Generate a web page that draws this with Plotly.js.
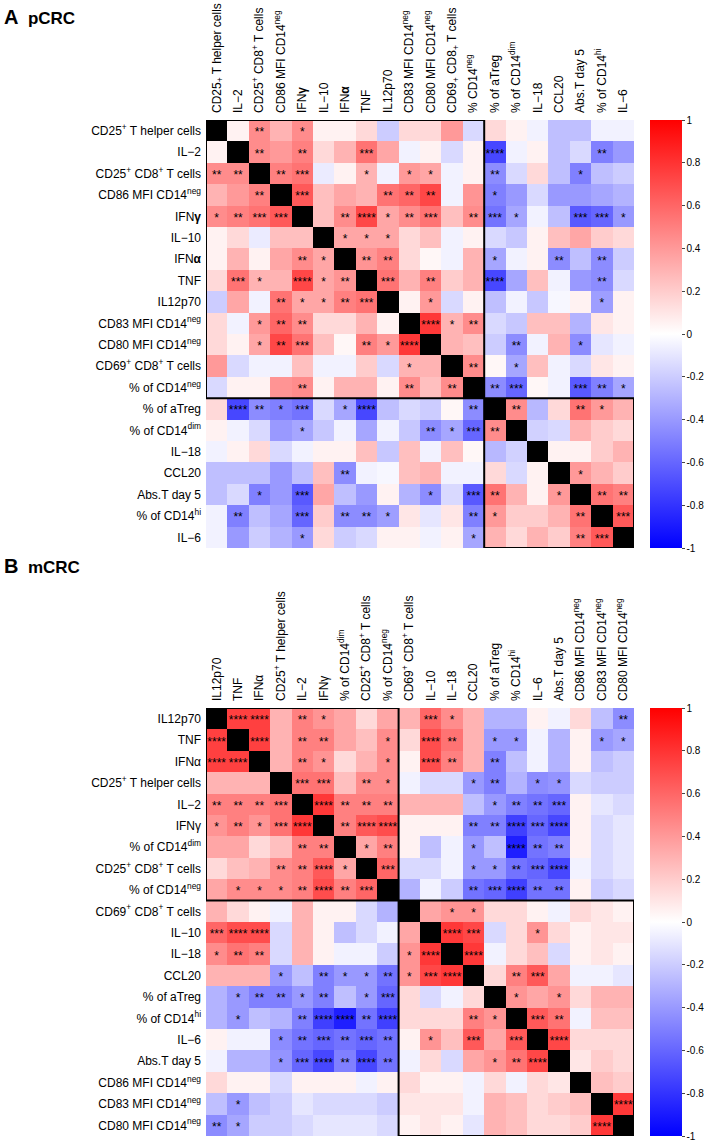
<!DOCTYPE html>
<html><head><meta charset="utf-8">
<script src="https://cdn.plot.ly/plotly-3.0.1.min.js"></script>
<style>html,body{margin:0;padding:0;background:#fff}</style>
</head><body><div id="chart" style="width:705px;height:1144px"></div>
<script>
// ---------- Panel A : pCRC ----------
const rowLabelsA = ["CD25<sup>+</sup> T helper cells","IL−2","CD25<sup>+</sup> CD8<sup>+</sup> T cells","CD86 MFI CD14<sup>neg</sup>","IFN<b>γ</b>","IL−10","IFN<b>α</b>","TNF","IL12p70","CD83 MFI CD14<sup>neg</sup>","CD80 MFI CD14<sup>neg</sup>","CD69<sup>+</sup> CD8<sup>+</sup> T cells","% of CD14<sup>neg</sup>","% of aTreg","% of CD14<sup>dim</sup>","IL−18","CCL20","Abs.T day 5","% of CD14<sup>hi</sup>","IL−6"];
const colLabelsA = ["CD25<sub>+</sub> T helper cells","IL−2","CD25<sup>+</sup> CD8<sup>+</sup> T cells","CD86 MFI CD14<sup>neg</sup>","IFN<b>γ</b>","IL−10","IFN<b>α</b>","TNF","IL12p70","CD83 MFI CD14<sup>neg</sup>","CD80 MFI CD14<sup>neg</sup>","CD69<sub>+</sub> CD8<sub>+</sub> T cells","% CD14<sup>neg</sup>","% of aTreg","% of CD14<sup>dim</sup>","IL−18","CCL20","Abs.T day 5","% of CD14<sup>hi</sup>","IL−6"];
// lower triangle correlations (row i, columns 0..i-1)
const lowerA = [
 [],
 [0.05],
 [0.45,0.45],
 [0.3,0.4,0.5],
 [0.45,0.5,0.55,0.65],
 [0.05,0.15,-0.08,0.25,0.25],
 [0.05,0.3,0.05,0.35,0.45,0.35],
 [0.15,0.55,0.3,0.3,0.72,0.35,0.42],
 [-0.2,0.35,-0.05,0.55,0.35,0.35,0.5,0.55],
 [0.15,-0.05,0.4,0.6,0.45,0.15,0.15,0.3,0.05],
 [0.15,0.05,0.35,0.72,0.55,0.25,0.03,0.5,0.4,0.78],
 [0.4,-0.15,-0.05,-0.05,0.25,-0.05,-0.05,0.2,-0.15,0.3,0.3],
 [-0.15,0.05,0.05,0.42,0.45,0.05,0.3,0.3,0.05,0.45,0.25,0.45],
 [0.15,-0.72,-0.45,-0.5,-0.55,-0.15,-0.35,-0.72,-0.25,-0.15,-0.2,0.03,-0.45],
 [0.05,-0.05,-0.15,-0.4,-0.35,-0.22,-0.05,-0.35,-0.05,-0.22,-0.45,-0.35,-0.6,0.45],
 [-0.05,0.05,0.15,-0.15,-0.05,0.05,0.05,0.25,-0.22,0.25,-0.05,0.25,0.03,-0.28,-0.18],
 [-0.25,-0.25,-0.25,-0.4,-0.25,0.25,-0.45,-0.05,-0.03,0.25,0.3,-0.05,-0.05,0.15,-0.15,0.05],
 [-0.25,-0.15,-0.5,-0.4,-0.65,0.35,-0.25,-0.4,0.05,-0.3,-0.45,-0.15,-0.65,0.55,0.3,0.05,0.4],
 [-0.05,-0.5,-0.25,-0.35,-0.6,0.2,-0.45,-0.45,-0.38,0.1,-0.1,0.1,-0.5,0.4,0.2,0.2,0.3,0.55],
 [-0.05,-0.4,-0.2,-0.3,-0.4,0.15,-0.2,-0.15,0.05,0.05,-0.05,0.05,-0.35,0.3,0.15,0.3,0.2,0.5,0.65]
];
// lower triangle significance (number of asterisks)
const sigA = [
 [],
 [0],
 [2,2],
 [0,0,2],
 [1,2,3,3],
 [0,0,0,0,0],
 [0,0,0,0,2,1],
 [0,3,1,0,4,1,2],
 [0,0,0,2,1,1,2,3],
 [0,0,1,2,2,0,0,0,0],
 [0,0,1,2,3,0,0,2,1,4],
 [0,0,0,0,0,0,0,0,0,1,0],
 [0,0,0,0,2,0,0,0,0,2,0,2],
 [0,4,2,1,3,0,1,4,0,0,0,0,2],
 [0,0,0,0,1,0,0,0,0,0,2,1,3,2],
 [0,0,0,0,0,0,0,0,0,0,0,0,0,0,0],
 [0,0,0,0,0,0,2,0,0,0,0,0,0,0,0,0],
 [0,0,1,0,3,0,0,0,0,0,1,0,3,2,0,0,1],
 [0,2,0,0,3,0,2,2,1,0,0,0,2,1,0,0,0,2],
 [0,0,0,0,1,0,0,0,0,0,0,0,1,0,0,0,0,2,3]
];
const blocksA = [13, 7];

// ---------- Panel B : mCRC ----------
const rowLabelsB = ["IL12p70","TNF","IFNα","CD25<sup>+</sup> T helper cells","IL−2","IFNγ","% of CD14<sup>dim</sup>","CD25<sup>+</sup> CD8<sup>+</sup> T cells","% of CD14<sup>neg</sup>","CD69<sup>+</sup> CD8<sup>+</sup> T cells","IL−10","IL−18","CCL20","% of aTreg","% of CD14<sup>hi</sup>","IL−6","Abs.T day 5","CD86 MFI CD14<sup>neg</sup>","CD83 MFI CD14<sup>neg</sup>","CD80 MFI CD14<sup>neg</sup>"];
const colLabelsB = ["IL12p70","TNF","IFNα","CD25<sup>+</sup> T helper cells","IL−2","IFNγ","% of CD14<sup>dim</sup>","CD25<sup>+</sup> CD8<sup>+</sup> T cells","% of CD14<sup>neg</sup>","CD69<sup>+</sup> CD8<sup>+</sup> T cells","IL−10","IL−18","CCL20","% of aTreg","% CD14<sup>hi</sup>","IL−6","Abs.T day 5","CD86 MFI CD14<sup>neg</sup>","CD83 MFI CD14<sup>neg</sup>","CD80 MFI CD14<sup>neg</sup>"];
const lowerB = [
 [],
 [0.75],
 [0.75,0.75],
 [0.3,0.3,0.3],
 [0.5,0.5,0.5,0.55],
 [0.42,0.5,0.42,0.55,0.78],
 [0.35,0.35,0.15,0.25,0.5,0.5],
 [0.15,0.25,0.3,0.45,0.5,0.65,0.35],
 [0.35,0.45,0.45,0.45,0.5,0.7,0.5,0.6],
 [0.3,0.15,0.05,-0.05,0.3,0.05,0.05,-0.15,-0.3],
 [0.6,0.7,0.7,-0.15,0.3,0.05,-0.25,-0.15,-0.05,0.35],
 [0.45,0.55,0.5,-0.15,0.3,0.05,-0.05,-0.05,-0.2,0.42,0.78],
 [0.3,0.3,0.3,-0.4,-0.25,-0.5,-0.4,-0.4,-0.55,0.42,0.72,0.78],
 [-0.3,-0.4,-0.5,-0.5,-0.4,-0.5,-0.25,-0.4,-0.6,0.15,-0.15,-0.05,0.15],
 [-0.3,-0.4,-0.25,-0.3,-0.5,-0.75,-0.88,-0.55,-0.75,0.15,0.15,0.15,0.5,0.42],
 [0.05,-0.05,-0.05,-0.45,-0.55,-0.6,-0.55,-0.6,-0.55,0.05,0.42,0.25,0.65,0.35,0.65],
 [-0.05,-0.3,-0.3,-0.42,-0.6,-0.72,-0.5,-0.72,-0.55,-0.05,0.15,-0.15,0.35,0.42,0.55,0.72],
 [0.15,0.05,0.05,-0.15,0.05,0.05,0.05,-0.05,0.05,0.15,0.05,0.05,-0.05,0.15,-0.05,0.15,0.1],
 [-0.25,-0.4,-0.25,-0.2,-0.1,-0.15,-0.15,-0.15,-0.2,0.1,0.1,0.1,-0.05,0.3,0.25,0.15,0.2,0.25],
 [-0.45,-0.35,-0.2,-0.2,-0.15,-0.1,-0.1,-0.1,-0.15,0.05,0.1,0.05,-0.1,0.3,0.25,0.15,0.15,0.2,0.78]
];
const sigB = [
 [],
 [4],
 [4,4],
 [0,0,0],
 [2,2,2,3],
 [1,2,1,3,4],
 [0,0,0,0,2,2],
 [0,0,0,2,2,4,1],
 [0,1,1,1,2,4,2,3],
 [0,0,0,0,0,0,0,0,0],
 [3,4,4,0,0,0,0,0,0,0],
 [1,2,2,0,0,0,0,0,0,1,4],
 [0,0,0,1,0,2,1,1,2,1,3,4],
 [0,1,2,2,1,2,0,1,3,0,0,0,0],
 [0,1,0,0,2,4,4,2,4,0,0,0,2,1],
 [0,0,0,1,2,3,2,3,2,0,1,0,3,0,3],
 [0,0,0,1,3,4,2,4,2,0,0,0,0,1,2,4],
 [0,0,0,0,0,0,0,0,0,0,0,0,0,0,0,0,0],
 [0,1,0,0,0,0,0,0,0,0,0,0,0,0,0,0,0,0],
 [2,1,0,0,0,0,0,0,0,0,0,0,0,0,0,0,0,0,4]
];
const blocksB = [9, 11];

const cbTickVals = [1,0.8,0.6,0.4,0.2,0,-0.2,-0.4,-0.6,-0.8,-1];
const cbTickText = ["1","0.8","0.6","0.4","0.2","0","-0.2","-0.4","-0.6","-0.8","-1"];

// ---------- build ----------
const W = 705, H = 1144;
const FONT = "Liberation Sans, Arial, Helvetica, sans-serif";
const panels = [
  {rows: rowLabelsA, cols: colLabelsA, lower: lowerA, sig: sigA, blocks: blocksA, top: 120, ax: ""},
  {rows: rowLabelsB, cols: colLabelsB, lower: lowerB, sig: sigB, blocks: blocksB, top: 708, ax: "2"}
];
const left = 206, cell = 21.4;

function full(lower, n, diag) {
  const m = [];
  for (let i = 0; i < n; i++) {
    const r = [];
    for (let j = 0; j < n; j++) {
      if (i === j) r.push(diag);
      else if (j < i) r.push(lower[i][j]);
      else r.push(lower[j][i]);
    }
    m.push(r);
  }
  return m;
}

const traces = [], shapes = [], layout = {
  width: W, height: H, margin: {l: 0, r: 0, t: 0, b: 0},
  paper_bgcolor: "#fff", plot_bgcolor: "#fff", showlegend: false,
  font: {family: FONT, color: "#000"},
  annotations: [
    {text: "<b><span style='font-size:20px'>A</span>  pCRC</b>", x: 2/W, y: 1 - 17/H, xref: "paper", yref: "paper", xanchor: "left", yanchor: "middle", showarrow: false, font: {size: 17, family: FONT}},
    {text: "<b><span style='font-size:20px'>B</span>  mCRC</b>", x: 2/W, y: 1 - 566/H, xref: "paper", yref: "paper", xanchor: "left", yanchor: "middle", showarrow: false, font: {size: 17, family: FONT}}
  ],
  shapes: shapes
};

panels.forEach(p => {
  const n = p.rows.length;
  const idx = [...Array(n).keys()];
  const xa = "x" + p.ax, ya = "y" + p.ax;
  const z = full(p.lower, n, null);
  const s = full(p.sig, n, 0);
  const right = left + n * cell, bottom = p.top + n * cell;
  traces.push({
    type: "heatmap", x: idx, y: idx, z: z, xaxis: xa, yaxis: ya,
    zmin: -1, zmax: 1, hoverinfo: "skip",
    colorscale: [[0, "rgb(0,0,255)"], [0.5, "rgb(255,255,255)"], [1, "rgb(255,0,0)"]],
    showscale: true,
    colorbar: {
      x: 650 / W, xanchor: "left", xpad: 0, ypad: 0,
      y: 1 - p.top / H, yanchor: "top",
      len: n * cell, lenmode: "pixels", thickness: 32, thicknessmode: "pixels",
      tickvals: cbTickVals, ticktext: cbTickText, ticks: "outside", ticklen: 3,
      tickfont: {size: 10, family: FONT}, outlinewidth: 0
    }
  });
  const diagZ = idx.map(i => idx.map(j => (i === j ? 1 : null)));
  traces.push({
    type: "heatmap", x: idx, y: idx, z: diagZ, xaxis: xa, yaxis: ya,
    colorscale: [[0, "#000"], [1, "#000"]], showscale: false, hoverinfo: "skip"
  });
  const sx = [], sy = [], st = [];
  idx.forEach(i => idx.forEach(j => {
    if (i !== j && s[i][j] > 0) { sx.push(j); sy.push(i + 0.12); st.push("*".repeat(s[i][j])); }
  }));
  traces.push({
    type: "scatter", mode: "text", x: sx, y: sy, text: st, xaxis: xa, yaxis: ya,
    textposition: "middle center", textfont: {size: 12, color: "#000", family: FONT},
    hoverinfo: "skip", cliponaxis: false
  });
  layout["xaxis" + p.ax] = {
    domain: [left / W, right / W], range: [-0.5, n - 0.5], anchor: ya,
    side: "top", tickangle: -90, tickvals: idx, ticktext: p.cols,
    tickfont: {size: 12, family: FONT, color: "#000"}, ticks: "",
    showgrid: false, zeroline: false, showline: false, fixedrange: true, ticklabelstandoff: 6
  };
  layout["yaxis" + p.ax] = {
    domain: [1 - bottom / H, 1 - p.top / H], range: [n - 0.5, -0.5], anchor: xa,
    tickvals: idx, ticktext: p.rows,
    tickfont: {size: 12, family: FONT, color: "#000"}, ticks: "",
    showgrid: false, zeroline: false, showline: false, fixedrange: true, ticklabelstandoff: 4
  };
  let start = 0;
  p.blocks.forEach(b => {
    shapes.push({type: "rect", xref: xa, yref: ya, x0: start - 0.5, x1: start + b - 0.5,
      y0: start - 0.5, y1: start + b - 0.5, line: {color: "#000", width: 2}});
    start += b;
  });
});

Plotly.newPlot("chart", traces, layout, {staticPlot: true, displayModeBar: false});
</script></body></html>
